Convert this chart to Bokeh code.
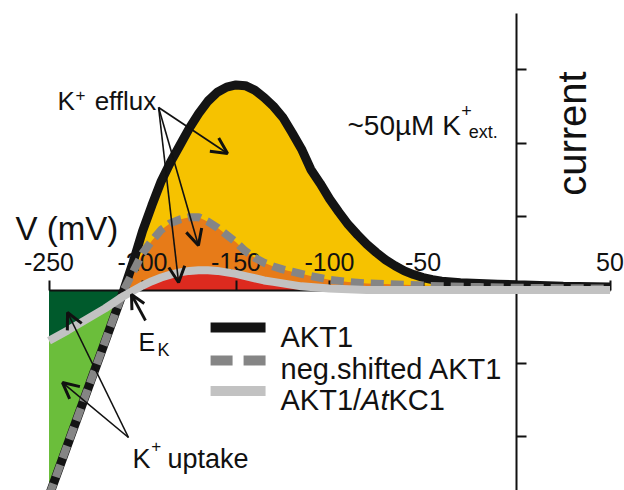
import numpy as np
from bokeh.plotting import figure
from bokeh.models import Range1d, LinearAxis, FixedTicker, Label, Arrow, OpenHead
from bokeh.embed import file_html
from bokeh.resources import INLINE

# ---------------- data (membrane voltage in mV, current in arbitrary units) ----------------
v_akt1 = [-250, -240, -230, -220, -210, -205, -200, -195, -190, -185, -180, -175, -170, -165,
          -160, -155, -150, -145, -140, -135, -130, -125, -120, -115, -110, -105, -100, -95,
          -90, -85, -80, -75, -70, -65, -60, -55, -50, -45, -40, -30, -20, -10, 0, 25, 50]
i_akt1 = [-2.80, -2.10, -1.40, -0.70, 0.00, 0.38, 0.80, 1.15, 1.48, 1.74, 1.97, 2.20, 2.40, 2.57,
          2.69, 2.76, 2.79, 2.78, 2.72, 2.62, 2.50, 2.35, 2.14, 1.92, 1.64, 1.45, 1.24, 1.06,
          0.89, 0.75, 0.62, 0.51, 0.41, 0.33, 0.26, 0.21, 0.17, 0.14, 0.12, 0.10, 0.09, 0.08,
          0.07, 0.05, 0.04]

v_neg = [-250, -240, -230, -220, -210, -205, -200, -195, -190, -185, -180, -175, -170, -165,
         -160, -155, -150, -145, -140, -135, -130, -125, -120, -115, -110, -100, -90, -80,
         -70, -60, -40, -20, 0, 50]
i_neg = [-2.80, -2.10, -1.40, -0.70, 0.00, 0.25, 0.50, 0.67, 0.82, 0.91, 0.96, 0.99, 0.99, 0.93,
         0.85, 0.75, 0.65, 0.53, 0.44, 0.37, 0.32, 0.28, 0.25, 0.22, 0.19, 0.14, 0.11, 0.09,
         0.08, 0.07, 0.05, 0.04, 0.03, 0.02]

v_kc1 = [-250, -240, -230, -220, -210, -205, -200, -195, -190, -185, -180, -175, -170, -165,
         -160, -155, -150, -145, -140, -135, -130, -125, -120, -115, -110, -100, -90, -80,
         -60, -40, -20, 0, 50]
i_kc1 = [-0.69, -0.55, -0.40, -0.25, -0.08, -0.01, 0.06, 0.12, 0.17, 0.21, 0.24, 0.26, 0.27, 0.27,
         0.26, 0.24, 0.22, 0.19, 0.16, 0.13, 0.11, 0.09, 0.07, 0.05, 0.04, 0.02, 0.01, 0.0,
         0.0, 0.0, 0.0, 0.0, 0.0]

x_ticks = [-250, -200, -150, -100, -50, 0, 50]
x_tick_labels = ["-250", "-200", "-150", "-100", "-50", "", "50"]
y_ticks = [-2, -1, 1, 2, 3]

series_names = ["AKT1", "neg.shifted AKT1", "AKT1/AtKC1"]

# ---------------- style ----------------
FONT = "Liberation Sans"
INK = "#111111"
YELLOW = "#F6C200"
ORANGE = "#E77B18"
RED = "#DD2A1F"
DGREEN = "#005A2C"
LGREEN = "#6BBE3B"
BLACK_LINE = "#141414"
DASH_GRAY = "#858585"
LIGHT_GRAY = "#C2C2C2"

p = figure(width=624, height=490,
           x_range=Range1d(-275.94, 57.75), y_range=Range1d(-2.728, 3.939),
           x_axis_type=None, y_axis_type=None,
           toolbar_location=None, output_backend="svg",
           min_border=0, outline_line_color=None, background_fill_color="white")

va, ia = np.array(v_akt1), np.array(i_akt1)
vn, i_n = np.array(v_neg), np.array(i_neg)
vk, ik = np.array(v_kc1), np.array(i_kc1)

# ---------- filled areas ----------
m = va >= -210
r = p.varea(x=va[m], y1=0, y2=ia[m], fill_color=YELLOW); r.level = "image"
m = vn >= -210
r = p.varea(x=vn[m], y1=0, y2=i_n[m], fill_color=ORANGE); r.level = "image"
m = vk >= -205
r = p.varea(x=vk[m], y1=0, y2=np.maximum(ik[m], 0), fill_color=RED); r.level = "image"
m = va <= -210
r = p.varea(x=va[m], y1=ia[m], y2=0, fill_color=LGREEN); r.level = "image"
m = vk <= -205
r = p.varea(x=vk[m], y1=np.minimum(ik[m], 0), y2=0, fill_color=DGREEN); r.level = "image"

# ---------- axes crossing at the origin ----------
xax = LinearAxis(fixed_location=0, bounds=(-250, 50),
                 ticker=FixedTicker(ticks=x_ticks),
                 major_label_overrides=dict(zip(x_ticks, x_tick_labels)),
                 axis_line_width=2, axis_line_color=INK,
                 major_tick_line_width=2, major_tick_line_color=INK,
                 major_tick_in=0, major_tick_out=10, minor_tick_out=0, minor_tick_in=0,
                 major_label_text_font=FONT, major_label_text_font_size="25px",
                 major_label_text_color=INK, major_label_standoff=9)
xax.level = "underlay"
p.add_layout(xax, "above")

yax = LinearAxis(fixed_location=0, bounds=(-3, 3.76),
                 ticker=FixedTicker(ticks=y_ticks),
                 major_label_overrides={t: "" for t in y_ticks},
                 axis_line_width=2, axis_line_color=INK,
                 major_tick_line_width=2, major_tick_line_color=INK,
                 major_tick_in=0, major_tick_out=10, minor_tick_out=0, minor_tick_in=0)
yax.level = "underlay"
p.add_layout(yax, "right")

# ---------- curves ----------
p.line(va, ia, line_color=BLACK_LINE, line_width=9)
p.line(vn, i_n, line_color=DASH_GRAY, line_width=8, line_dash="13 7")
p.line(vk, ik, line_color=LIGHT_GRAY, line_width=8)

# ---------- text ----------
def lab(x, y, text, size, **kw):
    p.add_layout(Label(x=x, y=y, text=text, text_font=FONT, text_font_size=size,
                       text_color=INK, text_baseline=kw.pop("baseline", "alphabetic"),
                       text_align=kw.pop("align", "left"), **kw))

lab(-267.9, 0.837, "V (mV)", "33px")
lab(29.9, 2.129, "current", "40px", angle=np.pi / 2, align="center", baseline="middle")

lab(-245.5, 2.571, "K", "26px")
lab(-235.8, 2.66, "+", "17px")
lab(-225.6, 2.571, "efflux", "26px")

lab(-90.4, 2.238, "~50µM K", "28px")
lab(-29.6, 2.44, "+", "18px")
lab(-25.5, 2.156, "ext.", "18px")

lab(-202.1, -0.714, "E", "25px")
lab(-192.0, -0.810, "K", "18px")

lab(-205.3, -2.306, "K", "27px")
lab(-195.3, -2.129, "+", "17px")
lab(-186.7, -2.306, "uptake", "27px")

# ---------- legend (drawn by hand to allow the italic "At") ----------
leg_y = [-0.51, -0.959, -1.374]
leg_base = [-0.646, -1.075, -1.503]
leg_styles = [dict(line_color=BLACK_LINE, line_dash="solid"),
              dict(line_color=DASH_GRAY, line_dash="22 11"),
              dict(line_color=LIGHT_GRAY, line_dash="solid")]
for yy, st in zip(leg_y, leg_styles):
    p.add_layout(Arrow(x_start=-163.6, y_start=yy, x_end=-134.2, y_end=yy, end=None,
                       line_width=10, **st))
lab(-126.2, leg_base[0], series_names[0], "29px")
lab(-126.2, leg_base[1], series_names[1], "29px")
lab(-126.2, leg_base[2], "AKT1/", "29px")
lab(-83.1, leg_base[2], "At", "29px", text_font_style="italic")
lab(-68.5, leg_base[2], "KC1", "29px")

# ---------- arrows ----------
def arrow(x0, y0, x1, y1, w=1.6, s=16):
    p.add_layout(Arrow(x_start=x0, y_start=y0, x_end=x1, y_end=y1,
                       line_color=INK, line_width=w,
                       end=OpenHead(size=s, line_width=3, line_color=INK)))

arrow(-191.4, 2.483, -154.5, 1.857)
arrow(-191.4, 2.483, -170.1, 0.605)
arrow(-191.4, 2.483, -180.7, 0.102)
arrow(-207.5, -2.007, -240.1, -0.306)
arrow(-207.5, -2.007, -242.8, -1.259)
arrow(-198.4, -0.415, -205.9, -0.061, w=2.8, s=14)

open("out.html", "w").write(file_html(p, INLINE))
